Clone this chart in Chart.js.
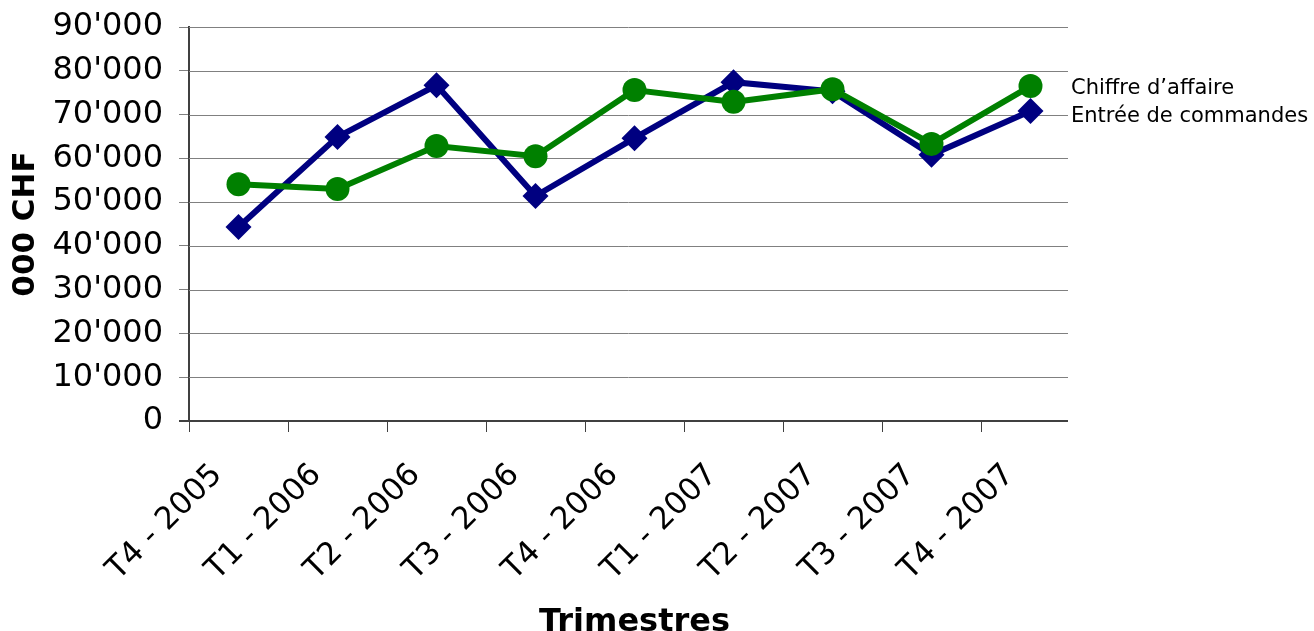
<!DOCTYPE html>
<html>
<head>
<meta charset="utf-8">
<script src="https://cdn.jsdelivr.net/npm/chart.js@4/dist/chart.umd.min.js"></script>
<style>
html, body { margin: 0; padding: 0; background: #fff; }
</style>
</head>
<body>
<canvas id="graficaTrimestres" width="1314" height="631"></canvas>
<script>
// Données du graphique
const trimestres = ['T4 - 2005', 'T1 - 2006', 'T2 - 2006', 'T3 - 2006', 'T4 - 2006',
                    'T1 - 2007', 'T2 - 2007', 'T3 - 2007', 'T4 - 2007'];
const chiffreAffaire = [54100, 53000, 62800, 60500, 75600, 72900, 75800, 63300, 76500];
const entreeCommandes = [44300, 64900, 76700, 51400, 64600, 77400, 75300, 60800, 70800];
const labelsSeries = ['Chiffre d’affaire', 'Entrée de commandes'];
const yMax = 90000;
const yPas = 10000;

const police = '"DejaVu Sans", Verdana, sans-serif';
const retraitDroite = 12; // les lignes de la grille s'arrêtent avant le bord droit

// Grille horizontale + axe X, un peu plus courts que la zone du graphique
const grilleCourte = {
    id: 'grilleCourte',
    beforeDatasetsDraw(chart) {
        const ctx = chart.ctx;
        const area = chart.chartArea;
        const y = chart.scales.y;
        const fin = area.right - retraitDroite;
        ctx.save();
        ctx.strokeStyle = '#808080';
        ctx.lineWidth = 1;
        y.ticks.forEach(function(t){
            if (t.value === 0) return;
            const py = Math.round(y.getPixelForValue(t.value)) + 0.5;
            ctx.beginPath();
            ctx.moveTo(area.left, py);
            ctx.lineTo(fin, py);
            ctx.stroke();
        });
        // axe des X
        ctx.strokeStyle = '#404040';
        ctx.lineWidth = 2;
        const p0 = Math.round(y.getPixelForValue(0));
        ctx.beginPath();
        ctx.moveTo(area.left - 10, p0);
        ctx.lineTo(fin, p0);
        ctx.stroke();
        ctx.restore();
    }
};

// Légende simple (texte seul, à droite du graphique)
const legendeTexte = {
    id: 'legendeTexte',
    afterDraw(chart) {
        const ctx = chart.ctx;
        ctx.save();
        ctx.font = '21px ' + police;
        ctx.fillStyle = '#000';
        ctx.textBaseline = 'middle';
        chart.data.datasets.forEach(function(ds, i){
            ctx.fillText(ds.label, chart.chartArea.right - 9, 89 + i * 28);
        });
        ctx.restore();
    }
};

const data = {
    labels: trimestres,
    datasets: [{
        label: labelsSeries[0],
        data: chiffreAffaire,
        borderColor: '#008000',
        backgroundColor: '#008000',
        borderWidth: 6,
        pointStyle: 'circle',
        pointRadius: 12,
        pointBorderWidth: 0,
        tension: 0
    }, {
        label: labelsSeries[1],
        data: entreeCommandes,
        borderColor: '#000080',
        backgroundColor: '#000080',
        borderWidth: 6,
        pointStyle: 'rectRot',
        pointRadius: 13,
        pointBorderWidth: 0,
        tension: 0
    }]
};

const config = {
    type: 'line',
    data: data,
    options: {
        responsive: false,
        animation: false,
        layout: { padding: { top: 27, right: 234, left: 0, bottom: 0 } },
        plugins: {
            legend: { display: false },
            tooltip: { enabled: false }
        },
        scales: {
            x: {
                offset: true,
                grid: {
                    offset: true,
                    drawOnChartArea: false,
                    color: function(c){ return c.tick ? '#404040' : 'rgba(0,0,0,0)'; },
                    tickLength: 11,
                    lineWidth: 1
                },
                border: { display: false },
                ticks: {
                    minRotation: 45,
                    maxRotation: 45,
                    color: '#000',
                    padding: 4,
                    font: { family: police, size: 31 },
                    callback: function(v){ return this.getLabelForValue(v) + '   '; }
                },
                title: {
                    display: true,
                    text: 'Trimestres',
                    color: '#000',
                    font: { family: police, size: 32, weight: 'bold' },
                    padding: { top: 0, bottom: -11 }
                },
                afterFit: function(scale){ scale.height = 210; }
            },
            y: {
                min: 0,
                max: yMax,
                ticks: {
                    stepSize: yPas,
                    color: '#000',
                    padding: 16,
                    font: { family: police, size: 32 },
                    callback: function(v){ return v === 0 ? '0' : (v / 1000) + "'000"; }
                },
                grid: { color: '#808080', lineWidth: 1, tickLength: 10, drawOnChartArea: false },
                border: { color: '#404040', width: 2 },
                title: {
                    display: true,
                    text: '000 CHF',
                    color: '#000',
                    font: { family: police, size: 31, weight: 'bold' },
                    padding: { top: 7, bottom: 0 }
                },
                afterFit: function(scale){
                    scale.width = 189;
                    scale.paddingTop = 0;
                    scale.paddingBottom = 0;
                }
            }
        }
    },
    plugins: [grilleCourte, legendeTexte]
};

const myChart = new Chart(document.getElementById('graficaTrimestres'), config);
</script>
</body>
</html>
